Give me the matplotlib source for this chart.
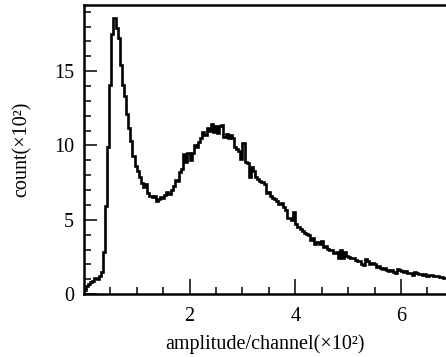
import matplotlib
matplotlib.use("Agg")
import matplotlib.pyplot as plt
import numpy as np

# histogram of pulse amplitudes, bin width 0.04 (x10^2 channels), counts in x10^2
bin_width = 0.04
counts = [
    0.3, 0.55, 0.7, 0.85, 0.9, 1.1, 1.0, 1.2, 1.5, 2.85,
    5.9, 9.9, 14.1, 17.5, 18.55, 17.9, 17.2, 15.4, 14.1, 13.3,
    12.1, 11.2, 10.3, 9.3, 8.6, 8.3, 7.9, 7.5, 7.2, 7.4,
    6.8, 6.6, 6.55, 6.6, 6.25, 6.4, 6.55, 6.45, 6.7, 6.9,
    6.75, 7.0, 7.3, 7.7, 7.6, 8.25, 8.45, 9.4, 8.9, 9.5,
    9.0, 9.5, 10.0, 9.9, 10.25, 10.5, 10.9, 10.7, 11.2, 11.0,
    11.45, 10.9, 11.3, 10.85, 11.3, 11.35, 10.6, 10.75, 10.5, 10.7,
    10.5, 9.9, 9.75, 9.6, 9.1, 10.15, 8.9, 8.8, 7.9, 8.55,
    8.3, 7.85, 7.75, 7.6, 7.55, 7.4, 6.8, 6.85, 6.6, 6.5,
    6.4, 6.3, 6.05, 6.1, 5.85, 5.65, 5.1, 5.15, 5.0, 5.5,
    4.7, 4.55, 4.35, 4.25, 4.1, 4.05, 3.95, 3.65, 3.75, 3.4,
    3.5, 3.35, 3.55, 3.2, 3.25, 3.05, 2.95, 3.0, 2.75, 2.85,
    2.45, 2.95, 2.45, 2.85, 2.55, 2.5, 2.45, 2.4, 2.3, 2.2,
    2.25, 2.0, 1.95, 2.35, 2.2, 2.05, 2.1, 2.05, 1.85, 1.9,
    1.75, 1.7, 1.75, 1.6, 1.55, 1.6, 1.5, 1.45, 1.7, 1.6,
    1.55, 1.5, 1.55, 1.45, 1.4, 1.3, 1.5, 1.4, 1.35, 1.35,
    1.3, 1.35, 1.2, 1.3, 1.3, 1.25, 1.25, 1.2, 1.15, 1.15,
    1.1, 1.1,
]
x_ticks = [2, 4, 6]
y_ticks = [0, 5, 10, 15]
x_label = "amplitude/channel(×10²)"
y_label = "count(×10²)"

plt.rcParams["font.family"] = ["Liberation Serif", "DejaVu Serif"]

edges = np.arange(len(counts) + 1) * bin_width

fig = plt.figure(figsize=(4.46, 3.57), dpi=100)
ax = fig.add_axes([0.188, 0.176, 0.812, 0.810])

ax.stairs(counts, edges, color="black", linewidth=1.9)

ax.set_xlim(0, 6.85)
ax.set_ylim(0, 19.45)
ax.set_xticks(x_ticks)
ax.set_yticks(y_ticks)
ax.set_xticks(np.arange(0.5, 6.85, 0.5), minor=True)
ax.set_yticks(np.arange(1, 19.4, 1), minor=True)
ax.tick_params(which="both", direction="in", labelsize=14.5, width=1.1,
               top=False, right=False)
ax.tick_params(axis="x", which="major", length=11, pad=9)
ax.tick_params(axis="y", which="major", length=9, pad=7)
ax.tick_params(which="minor", length=5)

for side in ["left", "bottom", "top"]:
    ax.spines[side].set_linewidth(1.8)
ax.spines["right"].set_visible(False)

ax.set_xlabel(x_label, fontsize=14.5, labelpad=6)
ax.set_ylabel(y_label, fontsize=14.5, labelpad=16)

plt.savefig("out.png", dpi=100)
